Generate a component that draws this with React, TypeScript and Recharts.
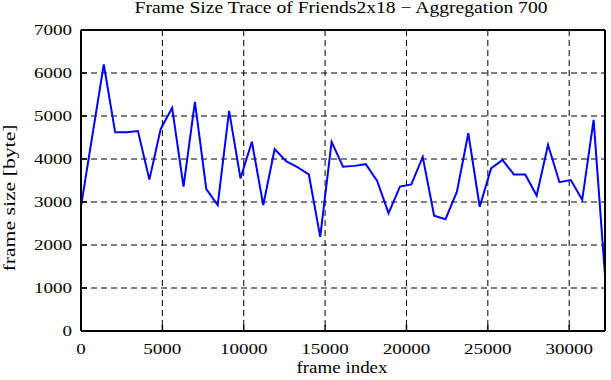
import React from 'react';
import { LineChart, Line, XAxis, YAxis, CartesianGrid } from 'recharts';

// aggregated frame index (every 700 frames)
const frameIndex = [
  0, 700, 1400, 2100, 2800, 3500, 4200, 4900, 5600, 6300,
  7000, 7700, 8400, 9100, 9800, 10500, 11200, 11900, 12600, 13300,
  14000, 14700, 15400, 16100, 16800, 17500, 18200, 18900, 19600, 20300,
  21000, 21700, 22400, 23100, 23800, 24500, 25200, 25900, 26600, 27300,
  28000, 28700, 29400, 30100, 30800, 31500, 32200,
];

// mean frame size in bytes
const frameSize = [
  2900, 4550, 6200, 4620, 4620, 4650, 3520, 4700, 5190, 3360,
  5330, 3300, 2930, 5120, 3550, 4400, 2930, 4230, 3950, 3810,
  3640, 2190, 4400, 3820, 3840, 3880, 3490, 2740, 3360, 3410,
  4050, 2680, 2600, 3240, 4600, 2890, 3780, 3980, 3640, 3640,
  3150, 4330, 3460, 3510, 3050, 4910, 1290,
];

const xTicks = [0, 5000, 10000, 15000, 20000, 25000, 30000];
const yTicks = [0, 1000, 2000, 3000, 4000, 5000, 6000, 7000];

const title = 'Frame Size Trace of Friends2x18 \u2212 Aggregation 700';
const xTitle = 'frame index';
const yTitle = 'frame size [byte]';

const font = "'Liberation Serif', 'Times New Roman', serif";
const digitW = 9.5; // the old gnuplot font is wide

const data = frameIndex.map((f, i) => ({ frame: f, size: frameSize[i] }));

// tick labels stretched to the wide look of the original
const XTick = (props: any) => {
  const s = String(props.payload.value);
  return (
    <text x={props.x} y={props.y} dy="0.71em" textAnchor="middle" fill="#000" fontSize={15}
      fontFamily={font} textLength={s.length * digitW} lengthAdjust="spacingAndGlyphs">
      {s}
    </text>
  );
};

const YTick = (props: any) => {
  const s = String(props.payload.value);
  return (
    <text x={props.x} y={props.y} dy="0.355em" textAnchor="end" fill="#000" fontSize={15}
      fontFamily={font} textLength={s.length * digitW} lengthAdjust="spacingAndGlyphs">
      {s}
    </text>
  );
};

const TopTitle = () => (
  <text x={341} y={13} textAnchor="middle" fill="#000" fontSize={16} fontFamily={font}
    textLength={413} lengthAdjust="spacingAndGlyphs">
    {title}
  </text>
);

const BottomTitle = () => (
  <text x={342} y={373} textAnchor="middle" fill="#000" fontSize={16} fontFamily={font}
    textLength={91} lengthAdjust="spacingAndGlyphs">
    {xTitle}
  </text>
);

const LeftTitle = () => (
  <text x={15} y={198} transform="rotate(-90 15 198)" textAnchor="middle" fill="#000"
    fontSize={16} fontFamily={font} textLength={147} lengthAdjust="spacingAndGlyphs">
    {yTitle}
  </text>
);

export default function App() {
  return (
    <div style={{ position: 'absolute', left: 0, top: 0, width: 611, height: 380, background: '#fff' }}>
      <LineChart width={611} height={380} data={data} margin={{ top: 29, right: 5, bottom: 0, left: 0 }}>
        <CartesianGrid stroke="#000" strokeDasharray="6 4" strokeWidth={1} horizontalValues={yTicks} verticalValues={xTicks} />
        <XAxis
          dataKey="frame"
          type="number"
          domain={[0, 32200]}
          ticks={xTicks}
          height={49}
          tickSize={-6}
          tickMargin={18}
          tick={<XTick />}
          axisLine={{ stroke: '#000', strokeWidth: 2 }}
          tickLine={{ stroke: '#000', strokeWidth: 1.5 }}
          label={<BottomTitle />}
        />
        <XAxis
          xAxisId="top"
          orientation="top"
          dataKey="frame"
          type="number"
          domain={[0, 32200]}
          ticks={xTicks}
          height={1}
          tickSize={-6}
          tick={false}
          axisLine={{ stroke: '#000', strokeWidth: 2 }}
          tickLine={{ stroke: '#000', strokeWidth: 1.5 }}
          label={<TopTitle />}
        />
        <YAxis
          type="number"
          domain={[0, 7000]}
          ticks={yTicks}
          width={81}
          tickSize={-6}
          tickMargin={15}
          tick={<YTick />}
          axisLine={{ stroke: '#000', strokeWidth: 2 }}
          tickLine={{ stroke: '#000', strokeWidth: 1.5 }}
          label={<LeftTitle />}
        />
        <YAxis
          yAxisId="right"
          orientation="right"
          type="number"
          domain={[0, 7000]}
          ticks={yTicks}
          width={1}
          tickSize={-6}
          tick={false}
          axisLine={{ stroke: '#000', strokeWidth: 2 }}
          tickLine={{ stroke: '#000', strokeWidth: 1.5 }}
        />
        <Line
          type="linear"
          dataKey="size"
          stroke="#0000ff"
          strokeWidth={2}
          dot={false}
          isAnimationActive={false}
        />
      </LineChart>
    </div>
  );
}
